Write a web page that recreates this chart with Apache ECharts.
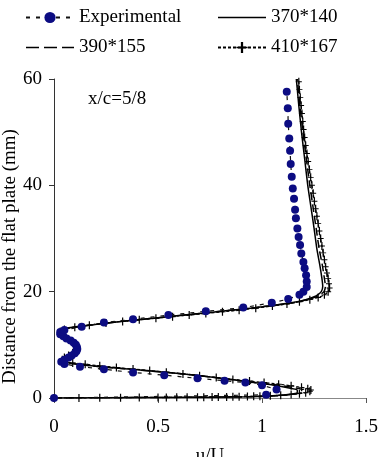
<!DOCTYPE html>
<html>
<head>
<meta charset="utf-8">
<script src="https://cdn.jsdelivr.net/npm/echarts@6/dist/echarts.min.js"></script>
<style>html,body{margin:0;padding:0;background:#fff}#c{width:379px;height:457px}</style>
</head>
<body>
<div id="c"></div>
<script>
// Experimental (u/U, y mm)
var expU = [0,1.02,1.07,1.00,0.92,0.82,0.69,0.53,0.38,0.24,0.125,0.05,0.035,0.05,0.07,0.085,0.10,0.108,0.112,0.11,0.105,0.095,0.08,0.06,0.045,0.03,0.03,0.05,0.133,0.24,0.38,0.55,0.73,0.91,1.047,1.126,1.18,1.199,1.215,1.215,1.212,1.205,1.199,1.189,1.183,1.176,1.170,1.163,1.159,1.154,1.148,1.143,1.138,1.135,1.131,1.126,1.124,1.119];
var expY = [0,0.6,1.6,2.4,2.9,3.25,3.7,4.3,4.8,5.4,5.9,6.4,6.8,7.2,7.6,8.0,8.4,8.8,9.2,9.6,10.0,10.4,10.8,11.2,11.6,12.0,12.4,12.8,13.4,14.2,14.8,15.6,16.3,17.0,17.9,18.6,19.4,20.0,20.9,21.9,23.1,24.4,25.6,27.2,28.8,30.3,31.9,33.8,35.4,37.5,39.4,41.6,44.0,46.5,48.8,51.6,54.5,57.6];

// CFD 370*140
var g1U = [0,0.25,0.5,0.75,0.95,1.07,1.14,1.17,1.17,1.13,1.06,0.96,0.85,0.7,0.55,0.4,0.25,0.12,0.05,0.04,0.06,0.09,0.105,0.105,0.09,0.06,0.035,0.03,0.06,0.15,0.3,0.45,0.6,0.75,0.9,1.03,1.14,1.21,1.26,1.285,1.292,1.288,1.278,1.264,1.25,1.235,1.22,1.205,1.19,1.177,1.165];
var g1Y = [0,0.05,0.1,0.15,0.25,0.45,0.75,1.1,1.5,1.9,2.4,2.9,3.5,4.2,4.8,5.3,5.8,6.3,6.8,7.2,7.8,8.5,9.2,9.9,10.6,11.4,12.1,12.6,13.1,13.6,14.3,14.9,15.5,16.1,16.7,17.3,17.9,18.5,19.2,20.0,21,22.5,25,28,32,36,40,45,50,55,60];

// CFD 390*155
var g2U = [0,0.25,0.5,0.75,0.95,1.08,1.16,1.2,1.2,1.16,1.08,0.97,0.85,0.7,0.55,0.4,0.25,0.12,0.05,0.04,0.06,0.09,0.105,0.105,0.09,0.06,0.035,0.03,0.06,0.15,0.3,0.45,0.6,0.75,0.9,1.03,1.15,1.22,1.27,1.298,1.305,1.3,1.29,1.275,1.26,1.245,1.23,1.213,1.197,1.182,1.17];
var g2Y = [0,0.05,0.1,0.15,0.25,0.45,0.75,1.1,1.5,1.9,2.4,2.9,3.5,4.2,4.8,5.3,5.8,6.3,6.8,7.2,7.8,8.5,9.2,9.9,10.6,11.4,12.1,12.6,13.1,13.6,14.3,14.9,15.5,16.1,16.7,17.3,17.9,18.5,19.2,20.0,21,22.5,25,28,32,36,40,45,50,55,60];

// CFD 410*167
var g3U = [0,0.12,0.22,0.32,0.41,0.50,0.54,0.59,0.64,0.69,0.72,0.76,0.79,0.83,0.86,0.89,0.93,0.96,0.99,1.04,1.09,1.14,1.18,1.21,1.23,1.235,1.22,1.19,1.14,1.08,1.01,0.94,0.86,0.78,0.70,0.62,0.54,0.46,0.38,0.30,0.22,0.15,0.09,0.05,0.04,0.05,0.07,0.09,0.105,0.11,0.105,0.09,0.07,0.05,0.035,0.03,0.05,0.1,0.17,0.25,0.33,0.41,0.49,0.57,0.65,0.73,0.81,0.89,0.97,1.05,1.12,1.18,1.23,1.27,1.30,1.318,1.325,1.322,1.318,1.312,1.306,1.3,1.294,1.288,1.282,1.276,1.27,1.264,1.258,1.252,1.246,1.24,1.234,1.228,1.222,1.216,1.21,1.205,1.2,1.196,1.192,1.188,1.184,1.18,1.177];
var g3Y = [0,0.02,0.04,0.06,0.08,0.1,0.11,0.12,0.13,0.15,0.16,0.18,0.19,0.21,0.23,0.25,0.28,0.31,0.35,0.42,0.52,0.66,0.82,1.0,1.25,1.5,1.75,2.0,2.3,2.6,2.9,3.2,3.5,3.85,4.2,4.5,4.85,5.15,5.45,5.75,6.05,6.35,6.6,6.9,7.2,7.6,8.0,8.5,9.0,9.5,10.0,10.5,11.0,11.5,12.0,12.5,12.9,13.3,13.7,14.1,14.4,14.7,15.0,15.3,15.6,15.9,16.2,16.5,16.9,17.3,17.7,18.1,18.5,18.9,19.4,20.0,20.7,21.5,22.5,23.5,24.7,26,27.3,28.6,30,31.4,32.8,34.2,35.6,37,38.5,40,41.5,43,44.5,46,47.5,49,50.5,52,53.5,55,56.5,58,59.5];

var xTicks = [0, 0.5, 1, 1.5];
var yTicks = [0, 20, 40, 60];

function pairs(u, y) { return u.map(function (v, i) { return [v, y[i]]; }); }

var FONT = 'Liberation Serif';
var FS = 19;
var plus = 'path://M-0.6,-5H0.6V5H-0.6Z M-3,-0.6H3V0.6H-3Z';
var iconSolid = 'path://M0,0H48V1.6H0Z';
var iconDash = 'path://M0,0H13V1.6H0Z M18,0H31V1.6H18Z M36,0H48V1.6H36Z';

var chart = echarts.init(document.getElementById('c'));
chart.setOption({
  animation: false,
  textStyle: { fontFamily: FONT },
  grid: { left: 54, top: 79, right: 13, bottom: 59, outerBoundsMode: 'none', containLabel: false },
  legend: [
    { left: 20, top: 3, orient: 'vertical', itemWidth: 48, itemHeight: 14, itemGap: 11,
      textStyle: { fontFamily: FONT, fontSize: FS, color: '#000' },
      data: ['Experimental', { name: '390*155', icon: iconDash }] },
    { left: 212, top: 3, orient: 'vertical', itemWidth: 48, itemHeight: 14, itemGap: 11,
      textStyle: { fontFamily: FONT, fontSize: FS, color: '#000' },
      data: [{ name: '370*140', icon: iconSolid }, '410*167'] }
  ],
  xAxis: {
    type: 'value', min: xTicks[0], max: xTicks[xTicks.length - 1], interval: 0.5,
    name: 'u/U', nameLocation: 'middle', nameGap: 49, nameMoveOverlap: false,
    nameTextStyle: { fontFamily: FONT, fontSize: FS, color: '#000' },
    axisLine: { show: true, lineStyle: { color: '#888', width: 1 } },
    axisTick: { show: true, inside: false, length: 5, lineStyle: { color: '#555' } },
    axisLabel: { fontFamily: FONT, fontSize: FS, color: '#000', margin: 20 },
    splitLine: { show: false }
  },
  yAxis: {
    type: 'value', min: yTicks[0], max: yTicks[yTicks.length - 1], interval: 20,
    name: 'Distance from the flat plate (mm)', nameLocation: 'middle', nameGap: 34, nameMoveOverlap: false,
    nameTextStyle: { fontFamily: FONT, fontSize: 19, color: '#000', padding: [0, 36, 0, 0] },
    axisLine: { show: true, lineStyle: { color: '#333', width: 1 } },
    axisTick: { show: true, inside: false, length: 5, lineStyle: { color: '#333' } },
    axisLabel: { fontFamily: FONT, fontSize: FS, color: '#000', margin: 12 },
    splitLine: { show: false }
  },
  graphic: [
    { type: 'text', left: 88, top: 90, style: { text: 'x/c=5/8', fontFamily: FONT, fontSize: FS, fill: '#000' } }
  ],
  series: [
    { name: '370*140', type: 'line', data: pairs(g1U, g1Y), smooth: 0.2, showSymbol: false,
      lineStyle: { color: '#000', width: 1.5, type: 'solid' }, itemStyle: { color: '#000' }, z: 2 },
    { name: '390*155', type: 'line', data: pairs(g2U, g2Y), smooth: 0.2, showSymbol: false,
      lineStyle: { color: '#000', width: 1.5, type: [8, 4] }, itemStyle: { color: '#000' }, z: 2 },
    { name: '410*167', type: 'line', data: pairs(g3U, g3Y), smooth: 0.2, symbol: plus, symbolSize: [6, 8],
      showAllSymbol: true,
      lineStyle: { color: '#000', width: 1.2, type: [3, 2] }, itemStyle: { color: '#000' }, z: 2 },
    { name: 'Experimental', type: 'line', data: pairs(expU, expY), symbol: 'circle', symbolSize: 8,
      showAllSymbol: true,
      lineStyle: { color: '#111', width: 1.2, type: [4, 6] }, itemStyle: { color: '#0c0c82' }, z: 4 }
  ]
});
</script>
</body>
</html>
